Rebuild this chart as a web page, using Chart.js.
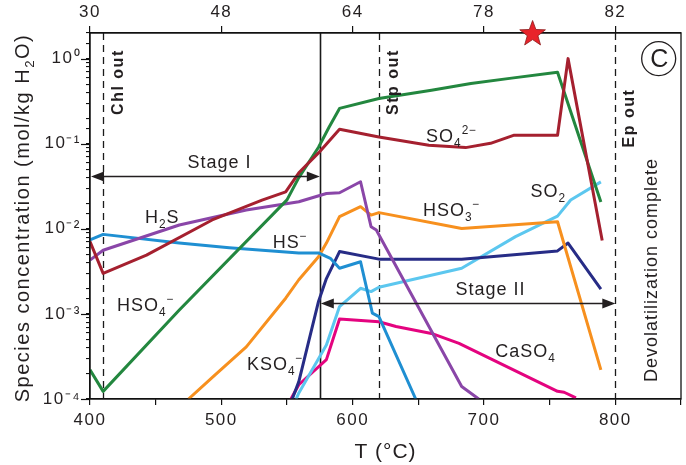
<!DOCTYPE html>
<html>
<head>
<meta charset="utf-8">
<script src="https://cdn.jsdelivr.net/npm/chart.js@4.4.1/dist/chart.umd.min.js"></script>
<style>
  html, body { margin: 0; padding: 0; background: #fff; }
  canvas { display: block; }
</style>
</head>
<body>
<canvas id="chart" width="686" height="465"></canvas>
<script>
// Temperature (°C) and species concentration (mol/kg H2O) for each aqueous sulfur species
const T_HSO4 = [400, 410, 468, 550, 559, 574, 582, 590, 620, 660, 690, 721, 756, 789];
const C_HSO4 = [2.2e-4, 1.23e-4, 1.11e-3, 0.0219, 0.040, 0.091, 0.156, 0.26, 0.34, 0.425, 0.51, 0.59, 0.69, 0.0207];

const T_SO4 = [400, 410, 443, 493, 531, 549, 559, 574, 590, 620, 658, 686, 705, 723, 756, 764, 790];
const C_SO4 = [7.1e-3, 3.0e-3, 4.9e-3, 0.0127, 0.0217, 0.0272, 0.0455, 0.078, 0.148, 0.120, 0.096, 0.090, 0.101, 0.126, 0.126, 1.0, 7.3e-3];

const T_H2S = [400, 410, 468, 519, 559, 580, 590, 606, 614, 618, 683, 696];
const C_H2S = [4.3e-3, 5.6e-3, 0.0111, 0.0166, 0.0208, 0.026, 0.0265, 0.0357, 0.0106, 9.7e-3, 1.4e-4, 1.0e-4];

const T_HS = [400, 410, 468, 506, 559, 574, 583, 590, 606, 615, 620, 648];
const C_HS = [7.4e-3, 8.6e-3, 6.8e-3, 6.0e-3, 5.2e-3, 5.2e-3, 4.5e-3, 3.44e-3, 4.1e-3, 1.02e-3, 9.3e-4, 1.0e-4];

const T_HSO3 = [475, 494, 519, 549, 559, 574, 580, 590, 606, 614, 620, 683, 756, 789];
const C_HSO3 = [1.0e-4, 1.84e-4, 4.1e-4, 1.53e-3, 2.52e-3, 4.7e-3, 6.8e-3, 0.0139, 0.0182, 0.0145, 0.0155, 0.0101, 0.0121, 2.2e-4];

const T_KSO4 = [554, 559, 574, 580, 590, 620, 683, 756, 764, 789];
const C_KSO4 = [1.0e-4, 1.6e-4, 1.4e-3, 2.6e-3, 5.4e-3, 4.4e-3, 4.4e-3, 5.5e-3, 6.8e-3, 1.95e-3];

const T_SO2 = [557, 559, 580, 590, 606, 614, 620, 683, 724, 756, 766, 789];
const C_SO2 = [1.0e-4, 1.18e-4, 4.3e-4, 1.22e-3, 2.0e-3, 1.83e-3, 2.06e-3, 3.44e-3, 8.1e-3, 0.0141, 0.0218, 0.0356];

const T_CASO4 = [553, 559, 580, 590, 620, 633, 660, 681, 756, 761, 770];
const C_CASO4 = [1.0e-4, 1.47e-4, 2.9e-4, 8.7e-4, 8.1e-4, 7.1e-4, 5.9e-4, 4.5e-4, 1.23e-4, 1.2e-4, 1.03e-4];

// Mineral-out temperatures and the stage boundary
const BOUNDARY_T = [410, 575, 620, 800];
const BOUNDARY_NAMES = ['Chl out', '', 'Stp out', 'Ep out'];

// Secondary (top) axis: positions in °C and their labels
const TOP_TICK_T = [400, 500, 600, 700, 800];
const TOP_TICK_LABELS = ['30', '48', '64', '78', '82'];

// Stage ranges (°C) and the concentration level of each arrow
const STAGE_NAMES = ['Stage I', 'Stage II'];
const STAGE_FROM = [400, 575];
const STAGE_TO = [575, 800];
const STAGE_LEVEL = [0.0416, 1.36e-3];

const STAR_T = 737;

const FONT = "'Liberation Sans', Arial, Helvetica, sans-serif";
const INK = '#231f20';

const COLORS = {
  HSO4: '#23873f', SO4: '#a5202f', H2S: '#8a46a8', HS: '#1f8fd2',
  HSO3: '#f7901e', KSO4: '#272c86', SO2: '#5cc7ef', CASO4: '#e4037f'
};

function pts(T, C) { return T.map((t, i) => ({ x: t, y: C[i] })); }
function ds(T, C, color) {
  return { data: pts(T, C), borderColor: color, borderWidth: 3, pointRadius: 0,
           tension: 0, fill: false, borderJoinStyle: 'round', borderCapStyle: 'butt' };
}

// Species labels: text parts, position in (°C, concentration), text centred on x, baseline at y
const LABELS = [
  { parts: [['H'], ['2', 'sub'], ['S']], t: 455, c: 0.0117 },
  { parts: [['HS'], ['\u2212', 'sup']], t: 552.5, c: 5.95e-3 },
  { parts: [['HSO'], ['4', 'sub'], ['\u2212', 'sup']], t: 442.5, c: 1.08e-3 },
  { parts: [['KSO'], ['4', 'sub'], ['\u2212', 'sup']], t: 541, c: 2.19e-4 },
  { parts: [['SO'], ['4', 'sub'], ['2\u2212', 'sup']], t: 675.4, c: 0.105 },
  { parts: [['HSO'], ['3', 'sub'], ['\u2212', 'sup']], t: 675.4, c: 0.0142 },
  { parts: [['SO'], ['2', 'sub']], t: 749, c: 0.0237 },
  { parts: [['CaSO'], ['4', 'sub']], t: 731.6, c: 3.12e-4 },
  { parts: [['Stage I']], t: 498.6, c: 0.0519 },
  { parts: [['Stage II']], t: 705, c: 1.67e-3 }
];

function richText(ctx, parts, cx, by, size, spacing) {
  ctx.save();
  ctx.letterSpacing = spacing + 'px';
  ctx.textAlign = 'left';
  ctx.textBaseline = 'alphabetic';
  ctx.fillStyle = INK;
  const small = size * 0.66;
  const segs = parts.map(([t, k]) => {
    const f = k ? small : size;
    ctx.font = f + 'px ' + FONT;
    return { t, k, f, w: ctx.measureText(t).width };
  });
  const total = segs.reduce((a, s) => a + s.w, 0);
  let x = cx - total / 2;
  for (const s of segs) {
    ctx.font = s.f + 'px ' + FONT;
    const dy = s.k === 'sub' ? size * 0.27 : (s.k === 'sup' ? -size * 0.42 : 0);
    ctx.fillText(s.t, x, by + dy);
    x += s.w;
  }
  ctx.restore();
}

function verticalText(ctx, text, cx, cy, font, spacing) {
  ctx.save();
  ctx.translate(cx, cy);
  ctx.rotate(-Math.PI / 2);
  ctx.letterSpacing = spacing + 'px';
  ctx.font = font;
  ctx.fillStyle = INK;
  ctx.textAlign = 'center';
  ctx.textBaseline = 'middle';
  ctx.fillText(text, 0, 0);
  ctx.restore();
}

function arrowHead(ctx, x, y, dir) {
  ctx.beginPath();
  ctx.moveTo(x, y);
  ctx.lineTo(x - dir * 13, y - 5);
  ctx.lineTo(x - dir * 13, y + 5);
  ctx.closePath();
  ctx.fill();
}

function star(ctx, cx, cy, ro, ri) {
  ctx.beginPath();
  for (let i = 0; i < 10; i++) {
    const r = i % 2 === 0 ? ro : ri;
    const a = -Math.PI / 2 + i * Math.PI / 5;
    const px = cx + r * Math.cos(a), py = cy + r * Math.sin(a);
    if (i === 0) ctx.moveTo(px, py); else ctx.lineTo(px, py);
  }
  ctx.closePath();
}

const decor = {
  id: 'decor',
  beforeDraw(chart) {
    chart.ctx.letterSpacing = '1.5px';
  },
  beforeDatasetsDraw(chart) {
    const { ctx, chartArea: a, scales: { x } } = chart;
    ctx.save();
    ctx.letterSpacing = '0px';
    BOUNDARY_T.forEach((t, i) => {
      const px = Math.round(x.getPixelForValue(t)) + 0.5;
      ctx.beginPath();
      ctx.strokeStyle = '#1a1a1a';
      if (BOUNDARY_NAMES[i]) { ctx.setLineDash([7, 5]); ctx.lineWidth = 1.3; }
      else { ctx.setLineDash([]); ctx.lineWidth = 1.6; }
      ctx.moveTo(px, a.top);
      ctx.lineTo(px, a.bottom);
      ctx.stroke();
    });
    ctx.restore();
  },
  afterDatasetsDraw(chart) {
    const { ctx, chartArea: a, scales: { x, y } } = chart;
    ctx.save();
    // stage arrows
    ctx.strokeStyle = INK; ctx.fillStyle = INK; ctx.lineWidth = 1.4; ctx.setLineDash([]);
    STAGE_FROM.forEach((t0, i) => {
      const x0 = x.getPixelForValue(t0), x1 = x.getPixelForValue(STAGE_TO[i]);
      const py = Math.round(y.getPixelForValue(STAGE_LEVEL[i])) + 0.5;
      ctx.beginPath(); ctx.moveTo(x0 + 6, py); ctx.lineTo(x1 - 6, py); ctx.stroke();
      arrowHead(ctx, x0 + 1, py, -1);
      arrowHead(ctx, x1, py, 1);
    });
    // species and stage labels
    LABELS.forEach(l => richText(ctx, l.parts, x.getPixelForValue(l.t), y.getPixelForValue(l.c), 18, 1));
    // mineral-out labels
    const boldF = 'bold 16px ' + FONT;
    verticalText(ctx, BOUNDARY_NAMES[0], x.getPixelForValue(421.6), y.getPixelForValue(0.53), boldF, 1.5);
    verticalText(ctx, BOUNDARY_NAMES[2], x.getPixelForValue(631), y.getPixelForValue(0.53), boldF, 1.5);
    verticalText(ctx, BOUNDARY_NAMES[3], x.getPixelForValue(810.5), y.getPixelForValue(0.2), boldF, 1.5);
    verticalText(ctx, 'Devolatilization complete', x.getPixelForValue(827.9), y.getPixelForValue(3.28e-3), '18px ' + FONT, 1);
    // panel badge
    const bx = x.getPixelForValue(833), by = y.getPixelForValue(1.0);
    ctx.beginPath(); ctx.lineWidth = 1.3; ctx.strokeStyle = INK;
    ctx.arc(bx, by, 17, 0, Math.PI * 2); ctx.stroke();
    ctx.font = '25px ' + FONT; ctx.letterSpacing = '0px';
    ctx.textAlign = 'center'; ctx.textBaseline = 'middle'; ctx.fillStyle = INK;
    ctx.fillText('C', bx + 0.5, by + 1);
    ctx.restore();
  },
  afterDraw(chart) {
    const { ctx, chartArea: a, scales: { x, y } } = chart;
    ctx.save();
    ctx.letterSpacing = '0px';
    // frame
    ctx.strokeStyle = '#111'; ctx.lineWidth = 1.3;
    ctx.strokeRect(a.left, a.top, a.right - a.left, a.bottom - a.top);
    // longer ticks at each decade
    ctx.lineWidth = 1.2;
    for (let e = -4; e <= 0; e++) {
      const py = Math.round(y.getPixelForValue(Math.pow(10, e))) + 0.5;
      ctx.beginPath(); ctx.moveTo(a.left - 9, py); ctx.lineTo(a.left, py); ctx.stroke();
    }
    // axis titles
    ctx.save();
    ctx.translate(29, (a.top + a.bottom) / 2 + 2);
    ctx.rotate(-Math.PI / 2);
    richText(ctx, [['Species concentration (mol/kg H'], ['2', 'sub'], ['O)']], 0, 0, 20, 1.5);
    ctx.restore();
    richText(ctx, [['T (\u00B0C)']], (a.left + a.right) / 2, 458, 21, 1);
    // sampled temperature marker
    const sx = x.getPixelForValue(STAR_T);
    star(ctx, sx, a.top + 1, 13.5, 5.6);
    ctx.fillStyle = '#e8232b'; ctx.fill();
    ctx.strokeStyle = '#8a1a1a'; ctx.lineWidth = 0.8; ctx.stroke();
    ctx.restore();
  }
};

const SUP = { '-': '\u207B', '0': '\u2070', '1': '\u00B9', '2': '\u00B2', '3': '\u00B3', '4': '\u2074' };
const tickFont = { family: FONT, size: 17 };

new Chart(document.getElementById('chart'), {
  type: 'line',
  data: {
    datasets: [
      ds(T_SO4, C_SO4, COLORS.SO4),
      ds(T_HSO4, C_HSO4, COLORS.HSO4),
      ds(T_H2S, C_H2S, COLORS.H2S),
      ds(T_HS, C_HS, COLORS.HS),
      ds(T_HSO3, C_HSO3, COLORS.HSO3),
      ds(T_KSO4, C_KSO4, COLORS.KSO4),
      ds(T_SO2, C_SO2, COLORS.SO2),
      ds(T_CASO4, C_CASO4, COLORS.CASO4)
    ]
  },
  options: {
    responsive: false,
    animation: false,
    layout: { padding: { left: 0, right: 3, top: 0, bottom: 0 } },
    plugins: { legend: { display: false }, tooltip: { enabled: false } },
    scales: {
      x: {
        type: 'linear', position: 'bottom', min: 400, max: 850,
        ticks: { stepSize: 50, autoSkip: false, maxRotation: 0, padding: 5, color: INK, font: tickFont,
                 callback: v => (v % 100 === 0 && v <= 800) ? String(v) : '' },
        grid: { drawOnChartArea: false, drawTicks: true, tickLength: 6, color: '#111', lineWidth: 1.2 },
        border: { display: true, color: '#111', width: 1.3 },
        afterFit: s => { s.height = 66; }
      },
      xTop: {
        type: 'linear', position: 'top', min: 400, max: 850,
        afterBuildTicks: s => { s.ticks = TOP_TICK_T.map(v => ({ value: v })); },
        ticks: { autoSkip: false, maxRotation: 0, padding: 3, color: INK, font: tickFont,
                 callback: v => { const i = TOP_TICK_T.indexOf(v); return i >= 0 ? TOP_TICK_LABELS[i] : ''; } },
        grid: { drawOnChartArea: false, drawTicks: true, tickLength: 7, color: '#111', lineWidth: 1.2 },
        border: { display: true, color: '#111', width: 1.3 },
        afterFit: s => { s.height = 33; }
      },
      y: {
        type: 'logarithmic', position: 'left', min: 1e-4, max: 2,
        ticks: { autoSkip: false, padding: 5, color: INK, font: tickFont,
                 callback: v => {
                   const e = Math.log10(v);
                   if (Math.abs(e - Math.round(e)) > 1e-6) return '';
                   return '10' + String(Math.round(e)).split('').map(ch => SUP[ch]).join('');
                 } },
        grid: { drawOnChartArea: false, drawTicks: true, tickLength: 4, color: '#111', lineWidth: 1.1 },
        border: { display: true, color: '#111', width: 1.3 },
        afterFit: s => { s.width = 90; }
      }
    }
  },
  plugins: [decor]
});
</script>
</body>
</html>
